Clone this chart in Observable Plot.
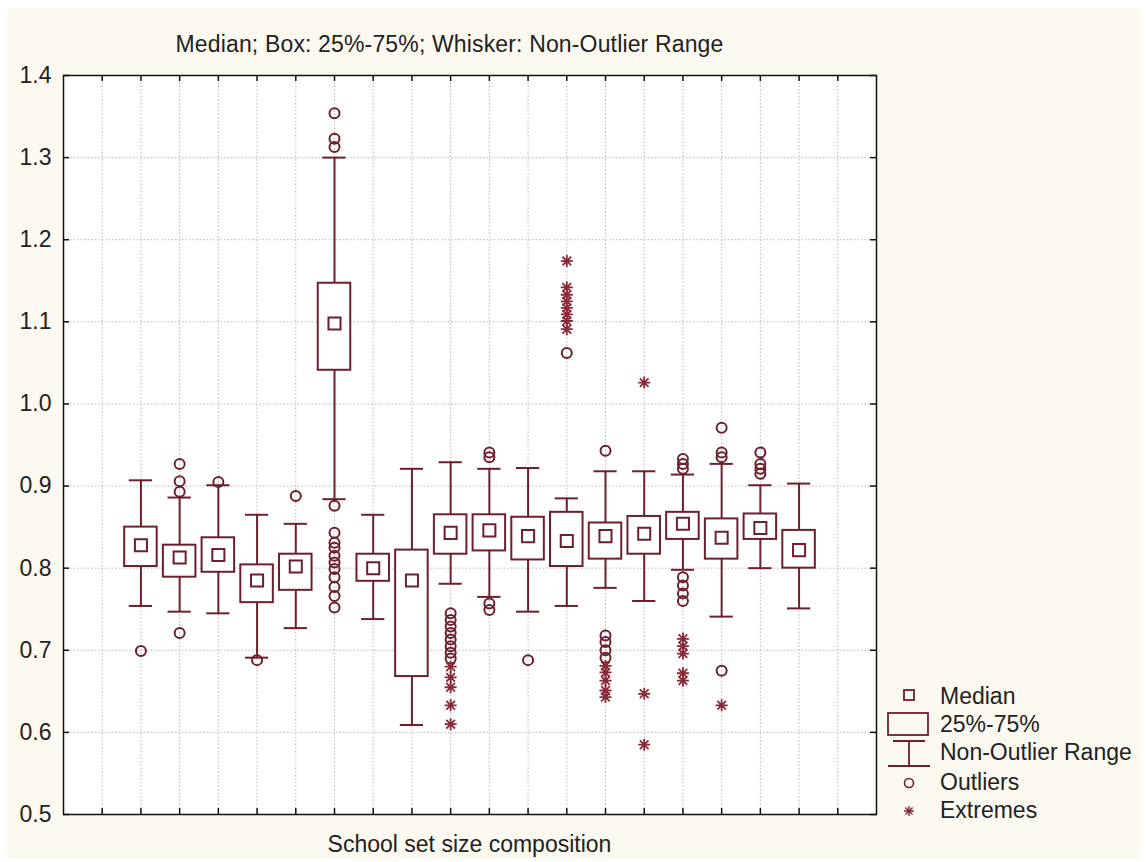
<!DOCTYPE html>
<html>
<head>
<meta charset="utf-8">
<script src="https://cdn.jsdelivr.net/npm/d3@7"></script>
<script src="https://cdn.jsdelivr.net/npm/@observablehq/plot@0.6"></script>
<style>
  html, body { margin: 0; padding: 0; background: #ffffff; }
  #page { position: relative; width: 1148px; height: 862px; overflow: hidden;
          font-family: "Liberation Sans", Arial, sans-serif; color: #222222; }
  #paper { position: absolute; left: 7px; top: 8px; width: 1134px; height: 851px; background: #fcf9f0; }
  .label { position: absolute; font-size: 23px; line-height: 23px; white-space: nowrap; text-align: center; }
  #chart { position: absolute; left: 0; top: 0; }
  #legend { position: absolute; left: 880px; top: 680px; overflow: visible; }
  #legend text { font-family: "Liberation Sans", Arial, sans-serif; font-size: 23px; fill: #222222; }
</style>
</head>
<body>
<div id="page">
  <div id="paper"></div>
  <div id="chart"></div>
  <div class="label" style="left:0;width:899px;top:33px;letter-spacing:0.15px">Median; Box: 25%-75%; Whisker: Non-Outlier Range</div>
  <div class="label" style="left:0;width:939px;top:833px">School set size composition</div>
  <svg id="legend" width="268" height="150"></svg>
</div>
<script>
// Category slots along the x axis (slots 1 and 20 stay empty, as in the grid)
const slots       = [2, 3, 4, 5, 6, 7, 8, 9, 10, 11, 12, 13, 14, 15, 16, 17, 18, 19];
const whiskerLow  = [0.754, 0.747, 0.745, 0.691, 0.727, 0.884, 0.738, 0.609, 0.781, 0.765, 0.747, 0.754, 0.776, 0.760, 0.798, 0.741, 0.800, 0.751];
const quartile1   = [0.802, 0.789, 0.795, 0.758, 0.773, 1.041, 0.784, 0.668, 0.817, 0.821, 0.810, 0.802, 0.811, 0.817, 0.835, 0.811, 0.835, 0.800];
const medians     = [0.828, 0.813, 0.816, 0.785, 0.802, 1.098, 0.800, 0.785, 0.843, 0.846, 0.839, 0.833, 0.839, 0.842, 0.854, 0.837, 0.849, 0.822];
const quartile3   = [0.850, 0.828, 0.837, 0.804, 0.817, 1.147, 0.817, 0.822, 0.865, 0.865, 0.862, 0.868, 0.855, 0.863, 0.868, 0.860, 0.866, 0.846];
const whiskerHigh = [0.907, 0.886, 0.901, 0.865, 0.854, 1.300, 0.865, 0.921, 0.929, 0.921, 0.922, 0.885, 0.918, 0.918, 0.914, 0.927, 0.901, 0.903];
const outliers = [
  [0.699],
  [0.927, 0.906, 0.893, 0.721],
  [0.905],
  [0.688],
  [0.888],
  [1.354, 1.323, 1.313, 0.876, 0.843, 0.831, 0.825, 0.815, 0.807, 0.799, 0.789, 0.777, 0.766, 0.752],
  [],
  [],
  [0.745, 0.737, 0.729, 0.721, 0.713, 0.705, 0.697, 0.690],
  [0.941, 0.935, 0.757, 0.749],
  [0.688],
  [1.062],
  [0.943, 0.718, 0.710, 0.700, 0.691],
  [],
  [0.933, 0.927, 0.921, 0.789, 0.779, 0.769, 0.760],
  [0.971, 0.941, 0.935, 0.675],
  [0.941, 0.927, 0.921, 0.915],
  []
];
const extremes = [
  [], [], [], [], [], [], [], [],
  [0.680, 0.667, 0.655, 0.633, 0.610],
  [],
  [],
  [1.174, 1.142, 1.133, 1.125, 1.117, 1.109, 1.101, 1.091],
  [0.681, 0.673, 0.663, 0.651, 0.643],
  [1.026, 0.647, 0.585],
  [0.714, 0.705, 0.696, 0.672, 0.663],
  [0.633],
  [],
  []
];
const xGridTicks = d3.range(1, 21);
const yTicks = [0.5, 0.6, 0.7, 0.8, 0.9, 1.0, 1.1, 1.2, 1.3, 1.4];

const ink = "#6d1f2d";
const extremeInk = "#8a2a38";
const gridInk = "#b8b8b8";

const boxes = slots.map((x, i) => ({
  x, lo: whiskerLow[i], q1: quartile1[i], med: medians[i], q3: quartile3[i], hi: whiskerHigh[i]
}));
const outlierRows = slots.flatMap((x, i) => outliers[i].map(v => ({x, v})));
const extremeRows = slots.flatMap((x, i) => extremes[i].map(v => ({x, v})));

// Eight-armed star used for extreme values
const star = {
  draw(context, size) {
    const r = Math.sqrt(size / Math.PI);
    const d = r * 0.72;
    context.moveTo(-r, 0); context.lineTo(r, 0);
    context.moveTo(0, -r); context.lineTo(0, r);
    context.moveTo(-d, -d); context.lineTo(d, d);
    context.moveTo(-d, d); context.lineTo(d, -d);
  }
};

const W = 880, H = 834, mL = 63, mR = 4, mT = 75, mB = 20;
const innerW = W - mL - mR, innerH = H - mT - mB, tickLen = 6;

const chart = Plot.plot({
  width: W, height: H,
  marginLeft: mL, marginRight: mR, marginTop: mT, marginBottom: mB,
  style: {background: "transparent", fontFamily: "Liberation Sans, Arial, sans-serif", fontSize: "23px", color: "#222222"},
  x: {type: "linear", domain: [0, 21], axis: null},
  y: {type: "linear", domain: [0.5, 1.4]},
  marks: [
    Plot.frame({fill: "white", stroke: null}),
    Plot.gridX(xGridTicks, {stroke: gridInk, strokeOpacity: 1, strokeDasharray: "1.5,2"}),
    Plot.gridY(yTicks, {stroke: gridInk, strokeOpacity: 1, strokeDasharray: "1.5,2"}),
    // inward ticks on all four sides
    Plot.tickY(yTicks, {y: d => d, insetRight: innerW - tickLen, stroke: "#111", strokeWidth: 1.5}),
    Plot.tickY(yTicks, {y: d => d, insetLeft: innerW - tickLen, stroke: "#111", strokeWidth: 1.5}),
    Plot.tickX(xGridTicks, {x: d => d, insetTop: innerH - tickLen, stroke: "#111", strokeWidth: 1.5}),
    Plot.tickX(xGridTicks, {x: d => d, insetBottom: innerH - tickLen, stroke: "#111", strokeWidth: 1.5}),
    // whiskers
    Plot.ruleX(boxes, {x: "x", y1: "lo", y2: "hi", stroke: ink, strokeWidth: 2}),
    Plot.ruleY(boxes, {y: "hi", x1: d => d.x - 0.3, x2: d => d.x + 0.3, stroke: ink, strokeWidth: 2}),
    Plot.ruleY(boxes, {y: "lo", x1: d => d.x - 0.3, x2: d => d.x + 0.3, stroke: ink, strokeWidth: 2}),
    // interquartile boxes
    Plot.rect(boxes, {x1: d => d.x - 0.42, x2: d => d.x + 0.42, y1: "q1", y2: "q3", fill: "white", stroke: ink, strokeWidth: 2}),
    // medians
    Plot.dot(boxes, {x: "x", y: "med", symbol: "square", r: 6.8, fill: "white", stroke: ink, strokeWidth: 2}),
    // outliers and extremes
    Plot.dot(outlierRows, {x: "x", y: "v", r: 5, fill: "none", stroke: ink, strokeWidth: 2}),
    Plot.dot(extremeRows, {x: "x", y: "v", symbol: star, r: 6, fill: "none", stroke: extremeInk, strokeWidth: 1.8}),
    Plot.frame({stroke: "#111", strokeWidth: 1.5}),
    Plot.axisY(yTicks, {tickSize: 0, tickPadding: 12, tickFormat: d3.format(".1f"), fontSize: 23, label: null})
  ]
});
document.getElementById("chart").appendChild(chart);

// Legend
const legendItems = ["Median", "25%-75%", "Non-Outlier Range", "Outliers", "Extremes"];
const legendBaselines = [24, 52, 80, 110, 138];
const lg = d3.select("#legend");
lg.append("rect").attr("x", 24).attr("y", 10).attr("width", 10).attr("height", 10)
  .attr("fill", "none").attr("stroke", ink).attr("stroke-width", 1.8);
lg.append("rect").attr("x", 8).attr("y", 33).attr("width", 40).attr("height", 22)
  .attr("fill", "none").attr("stroke", ink).attr("stroke-width", 1.8);
lg.append("path").attr("d", "M13,61H45M29,61V86M8,86H50")
  .attr("fill", "none").attr("stroke", ink).attr("stroke-width", 1.8);
lg.append("circle").attr("cx", 29).attr("cy", 103).attr("r", 4.5)
  .attr("fill", "none").attr("stroke", ink).attr("stroke-width", 1.6);
lg.append("path").attr("d", d3.symbol(star, Math.PI * 25)()).attr("transform", "translate(29,131)")
  .attr("fill", "none").attr("stroke", extremeInk).attr("stroke-width", 1.4);
lg.selectAll("text.item").data(legendItems).join("text").attr("class", "item")
  .attr("x", 60).attr("y", (d, i) => legendBaselines[i]).text(d => d);
</script>
</body>
</html>
